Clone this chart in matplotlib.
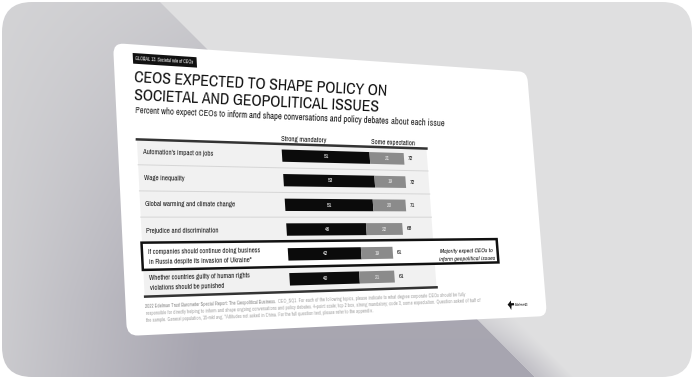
import numpy as np
import matplotlib
matplotlib.use("Agg")
import matplotlib.pyplot as plt
import matplotlib.transforms as mtransforms
from matplotlib import font_manager
from matplotlib.patches import FancyBboxPatch, Rectangle, Polygon

# ---- data ----
issues = [
    ["Automation's impact on jobs"],
    ["Wage inequality"],
    ["Global warming and climate change"],
    ["Prejudice and discrimination"],
    ["If companies should continue doing business", "in Russia despite its invasion of Ukraine*"],
    ["Whether countries guilty of human rights", "violations should be punished"],
]
strong = [51, 53, 51, 46, 42, 40]
some = [21, 19, 20, 22, 19, 21]
totals = [72, 72, 71, 68, 61, 61]
series_names = ["Strong mandatory", "Some expectation"]
highlight_row = 4

title_lines = ["CEOS EXPECTED TO SHAPE POLICY ON", "SOCIETAL AND GEOPOLITICAL ISSUES"]
subtitle = [("Percent who expect CEOs to", "normal"),
            ("inform and shape conversations and policy debates", "bold"),
            ("about each issue", "normal")]
note = ["Majority expect CEOs to", "inform geopolitical issues"]
footnote = [
    [("2022 Edelman Trust Barometer Special Report: The Geopolitical Business.", "bold"),
     ("CEO_SQ1. For each of the following topics, please indicate to what degree corporate CEOs should be fully", "normal")],
    [("responsible for directly helping to inform and shape ongoing conversations and policy debates. 4-point scale; top 2 box, strong mandatory; code 3,", "normal"),
     ("some expectation. Question asked of half of", "normal")],
    [("the sample. General population, 15-mkt avg. *Attitudes not asked in China. For the full question text, please refer to the appendix.", "normal")],
]

# ---- fonts ----
avail = {f.name for f in font_manager.fontManager.ttflist}
def pick(cands):
    for c in cands:
        if c in avail:
            return c
    return "DejaVu Sans"
NARROW = pick(["Liberation Sans Narrow", "Archivo Narrow", "PT Sans Narrow", "Roboto Condensed", "Liberation Sans"])
plt.rcParams["font.family"] = [NARROW, "DejaVu Sans"]


# perspective: slide units (1000 x 560) -> picture pixels
def homography(src, dst):
    A, b = [], []
    for (x, y), (X, Y) in zip(src, dst):
        A.append([x, y, 1, 0, 0, 0, -X * x, -X * y]); b.append(X)
        A.append([0, 0, 0, x, y, 1, -Y * x, -Y * y]); b.append(Y)
    h = np.linalg.solve(np.array(A, float), np.array(b, float))
    return np.append(h, 1).reshape(3, 3)


class Persp(mtransforms.Transform):
    input_dims = 2
    output_dims = 2

    def __init__(self, M):
        super().__init__()
        self.M = M

    def transform_non_affine(self, values):
        v = np.asarray(values, float).reshape(-1, 2)
        h = np.column_stack([v, np.ones(len(v))]) @ self.M.T
        return h[:, :2] / h[:, 2:3]


SW, SH = 1000, 560
persp = Persp(homography([(0, 0), (SW, 0), (SW, SH), (0, SH)],
                         [(113, 43), (527, 72), (547, 316), (127, 336)]))

fig = plt.figure(figsize=(6.94, 3.8), dpi=100, facecolor="white")
ax = fig.add_axes([0, 0, 1, 1])
ax.set_xlim(0, 694)
ax.set_ylim(380, 0)
ax.set_autoscale_on(False)
ax.axis("off")
slide_T = persp + ax.transData


def P(u, v):
    return persp.transform_non_affine([[u, v]])[0]


def frame(u, v):
    a = P(u + 5, v) - P(u - 5, v)
    sv = np.hypot(*(P(u, v + 5) - P(u, v - 5))) / 10
    return a / np.hypot(*a), sv


def stext(u, v, s, size, ha="left", va="baseline", **kw):
    p = P(u, v)
    d, sv = frame(u, v)
    ang = -np.degrees(np.arctan2(d[1], d[0]))
    return ax.text(p[0], p[1], s, fontsize=size * sv * 0.72, rotation=ang,
                   rotation_mode="anchor", ha=ha, va=va, zorder=6, **kw)


def rich(u, v, pieces, size, colors):
    renderer = fig.canvas.get_renderer()
    p = P(u, v)
    d, sv = frame(u, v)
    fs = size * sv * 0.72
    ang = -np.degrees(np.arctan2(d[1], d[0]))
    for (s, w), c in zip(pieces, colors):
        t = ax.text(p[0], p[1], s, fontsize=fs, weight=w, color=c, ha="left",
                    va="baseline", zorder=6)
        width = t.get_window_extent(renderer).width
        t.set_rotation(ang)
        t.set_rotation_mode("anchor")
        p = p + d * (width + 0.27 * fs / 0.72)


# ---- background ----
yy, xx = np.mgrid[0:380, 0:694] + 0.5
light = np.array([0.83, 0.83, 0.838])
dark = np.array([0.655, 0.647, 0.69])
bgc = np.array([0.878, 0.878, 0.882])
t = 0.2 * yy / 380 + 0.8 * np.clip(xx / 200, 0, 1) * np.clip((yy + 100) / 400, 0, 1)
shade = light + (dark - light) * t[..., None]
dd = (xx - 158) - yy
m = np.clip(0.5 - dd / 2, 0, 1)
soft = np.clip(1 - dd / 40, 0, 1) * np.clip((yy - 280) / 80, 0, 1) * 0.55 * (dd > 0)
m = np.maximum(m, soft)
img = shade * m[..., None] + bgc * (1 - m[..., None])
outer = FancyBboxPatch((2, 2), 690, 375, boxstyle="round,pad=0,rounding_size=30",
                       transform=ax.transData, facecolor="none", edgecolor="none")
im = ax.imshow(img, extent=(0, 694, 380, 0), aspect="auto", interpolation="bilinear", zorder=0)
im.set_clip_path(outer)

# ---- slide card ----
ax.add_patch(FancyBboxPatch((0, 0), SW, SH, boxstyle="round,pad=0,rounding_size=22",
                            transform=slide_T, facecolor="white", edgecolor="none", zorder=1))

# tag + titles
ax.add_patch(Rectangle((39, 17), 134, 21, transform=slide_T, facecolor="#111111", zorder=2))
stext(44, 31, "GLOBAL 13. Societal role of CEOs", 9, color="white", weight="bold")
stext(38, 74, title_lines[0], 31, weight="bold", color="#111111")
stext(38, 109, title_lines[1], 31, weight="bold", color="#111111")
rich(38, 135, subtitle, 16.6, ["#222222", "#111111", "#222222"])

# table
u_left, u_right = 39, 706
v_first, row_h = 210, 50.4
u_bar0, per_pct = 351, 4.1
v_top = v_first - 24
v_bot = v_first + row_h * (len(issues) - 1) + 25.5
ax.add_patch(Rectangle((u_left, v_top), u_right - u_left, v_bot - v_top, transform=slide_T,
                       facecolor="#f1f1f1", edgecolor="none", zorder=2))
for k in range(1, len(issues)):
    vv = v_first + row_h * (k - 0.5)
    ax.plot([u_left, u_right], [vv, vv], transform=slide_T, color="#d6d6d6", lw=0.7, zorder=2.5)
hv = v_first + row_h * (highlight_row - 0.5)
ax.add_patch(Rectangle((38, hv - 1.5), 838, row_h + 1.5, transform=slide_T, facecolor="white",
                       edgecolor="#111111", lw=1.8, zorder=3))
ax.plot([u_left, u_right], [v_top, v_top], transform=slide_T, color="#333333", lw=1.8, zorder=4)
ax.plot([u_left + 1, u_right], [v_bot, v_bot], transform=slide_T, color="#333333", lw=1.8, zorder=4)

# bars: x in percent, y in row index
chart_T = mtransforms.Affine2D().scale(per_pct, row_h).translate(u_bar0, v_first) + slide_T
rows = np.arange(len(issues))
ax.barh(rows, strong, height=0.5, color="#0b0b0b", transform=chart_T, zorder=5)
ax.barh(rows, some, left=strong, height=0.5, color="#8b8b8b", transform=chart_T, zorder=5)


def C(x, y):
    return u_bar0 + per_pct * x, v_first + row_h * y


for i in rows:
    u, v = C(strong[i] / 2, i)
    stext(u, v, str(strong[i]), 12, ha="center", va="center", color="white")
    u, v = C(strong[i] + some[i] / 2, i)
    stext(u, v, str(some[i]), 12, ha="center", va="center", color="#e4e4e4")
    u, v = C(totals[i] + 2.5, i)
    stext(u, v, str(totals[i]), 12.5, ha="left", va="center", color="#111111")
    vc = v_first + row_h * i
    lines = issues[i]
    if len(lines) == 1:
        stext(49, vc + 4.5, lines[0], 13.2, color="#1a1a1a", weight="bold")
    else:
        stext(50, vc - 5, lines[0], 13, color="#1a1a1a", weight="bold")
        stext(50, vc + 14, lines[1], 13, color="#1a1a1a", weight="bold")

stext(u_bar0, v_top - 7, series_names[0], 14.5, color="#111111")
stext(620, v_top - 6, series_names[1], 14.5, ha="center", color="#111111")
stext(791, 414, note[0], 13, ha="center", style="italic", color="#111111")
stext(791, 432, note[1], 13, ha="center", style="italic", color="#111111")

# footnote
for j, line in enumerate(footnote):
    cols = ["#888888" if w == "bold" else "#a4a4a4" for _, w in line]
    rich(39, 509 + 13.5 * j, line, 9, cols)

# logo and page number
ax.add_patch(Polygon([(892, 531), (902, 522), (902, 528), (910, 528), (910, 533), (903, 533),
                      (901, 543), (897, 536)], closed=True, transform=slide_T,
                     facecolor="#111111", edgecolor="none", zorder=6))
stext(912, 535, "Edelman", 8, color="#222222")
stext(940, 535, "23", 8.5, color="#222222")

fig.savefig("out.png", dpi=100)
